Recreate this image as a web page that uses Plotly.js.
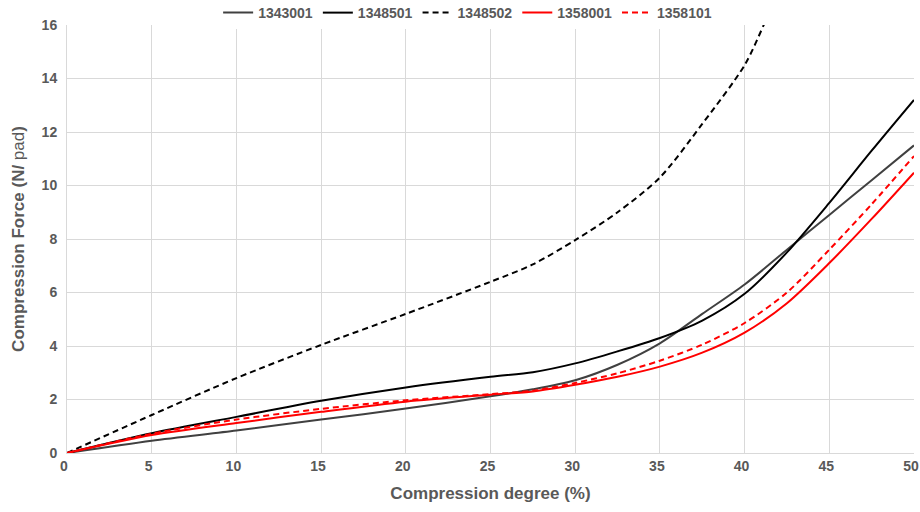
<!DOCTYPE html>
<html>
<head>
<meta charset="utf-8">
<script src="https://cdn.plot.ly/plotly-3.0.1.min.js"></script>
<style>html,body{margin:0;padding:0;background:#fff;}#chart{width:920px;height:512px;}</style>
</head>
<body>
<div id="chart"></div>
<script>
const xVals = [0, 5, 10, 15, 20, 25, 27.5, 30, 32.5, 35, 37.5, 40, 42.5, 45, 47.5, 50];
const s1343001 = [0, 0.46, 0.84, 1.25, 1.66, 2.12, 2.38, 2.72, 3.3, 4.1, 5.2, 6.3, 7.6, 8.9, 10.2, 11.5];
const s1348501 = [0, 0.74, 1.35, 1.95, 2.45, 2.85, 3.02, 3.35, 3.8, 4.3, 4.95, 5.95, 7.5, 9.35, 11.3, 13.2];
const x1348502 = [0, 5, 10, 15, 20, 25, 27.5, 30, 32.5, 35, 37.5, 40, 41.2, 42.5];
const s1348502 = [0, 1.42, 2.8, 4.04, 5.2, 6.4, 7.05, 7.96, 9.0, 10.3, 12.3, 14.5, 16.1, 18.0];
const s1358001 = [0, 0.67, 1.12, 1.54, 1.92, 2.18, 2.3, 2.55, 2.85, 3.23, 3.75, 4.5, 5.6, 7.1, 8.75, 10.48];
const s1358101 = [0, 0.72, 1.25, 1.65, 1.97, 2.2, 2.33, 2.62, 2.98, 3.45, 4.05, 4.86, 6.0, 7.6, 9.3, 11.1];
const seriesNames = ['1343001', '1348501', '1348502', '1358001', '1358101'];
const xTicks = [0, 5, 10, 15, 20, 25, 30, 35, 40, 45, 50];
const yTicks = [0, 2, 4, 6, 8, 10, 12, 14, 16];

const fam = 'Liberation Sans Narrow, Liberation Sans, Arial, sans-serif';
function tr(x, y, name, color, dash) {
  return {x: x, y: y, name: name, type: 'scatter', mode: 'lines',
    line: {color: color, width: 2, dash: dash, shape: 'spline', smoothing: 0.8}};
}
const data = [
  tr(xVals, s1343001, seriesNames[0], '#404040', 'solid'),
  tr(xVals, s1348501, seriesNames[1], '#000000', 'solid'),
  tr(x1348502, s1348502, seriesNames[2], '#000000', '6px,4px'),
  tr(xVals, s1358001, seriesNames[3], '#ff0000', 'solid'),
  tr(xVals, s1358101, seriesNames[4], '#ff0000', '6px,4px')
];
const layout = {
  width: 920, height: 512,
  margin: {l: 67, r: 6, t: 25, b: 59, autoexpand: false},
  paper_bgcolor: '#fff', plot_bgcolor: '#fff',
  font: {family: fam, color: '#595959', size: 14, weight: 'bold'},
  showlegend: true,
  legend: {orientation: 'h', x: 0.473, xanchor: 'center', y: 1.028, yanchor: 'middle',
    font: {family: fam, size: 14, color: '#595959', weight: 'bold'}, itemwidth: 30, traceorder: 'normal'},
  xaxis: {range: [0, 50], tickvals: xTicks, ticktext: xTicks.map(String), showgrid: true,
    gridcolor: '#d9d9d9', gridwidth: 1, zeroline: false, showline: true, linecolor: '#d9d9d9', linewidth: 1,
    ticks: '', ticklabelshift: -3, tickfont: {family: fam, size: 14, color: '#595959', weight: 'bold'},
    title: {text: 'Compression degree (%)', font: {family: fam, size: 17, color: '#595959', weight: 'bold'}, standoff: 14}},
  yaxis: {range: [0, 16], tickvals: yTicks, ticktext: yTicks.map(String), showgrid: true,
    gridcolor: '#d9d9d9', gridwidth: 1, zeroline: false, showline: true, linecolor: '#d9d9d9', linewidth: 1,
    ticks: '', ticklabelstandoff: 6, tickfont: {family: fam, size: 14, color: '#595959', weight: 'bold'},
    title: {text: 'Compression Force (N/ <span style="font-weight:normal">pad</span>)', font: {family: fam, size: 17, color: '#595959', weight: 'bold'}, standoff: 12}}
};
Plotly.newPlot('chart', data, layout, {displayModeBar: false, staticPlot: true});
</script>
</body>
</html>
